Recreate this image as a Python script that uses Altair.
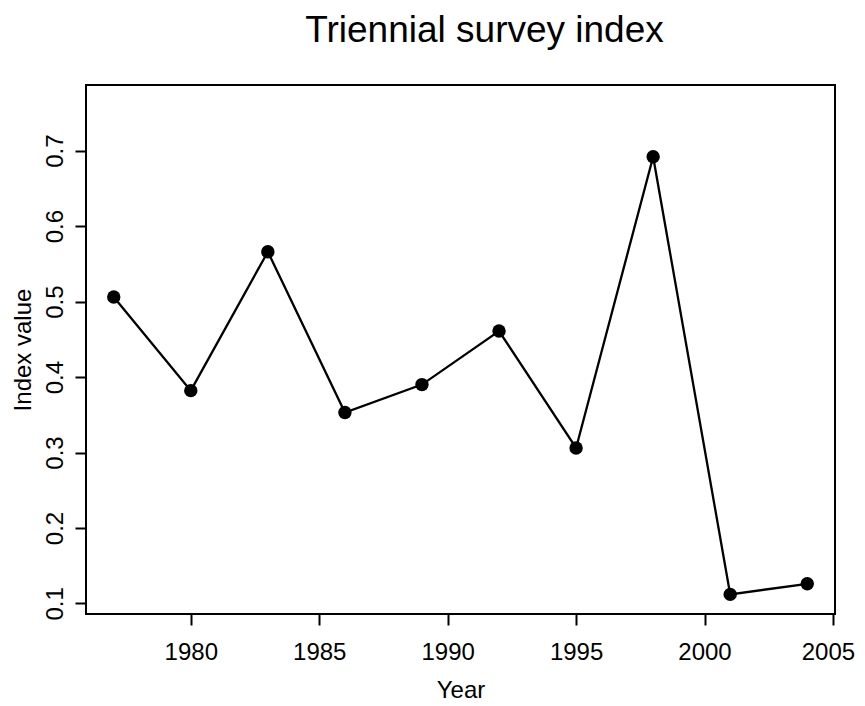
import altair as alt
import pandas as pd

years = [1977, 1980, 1983, 1986, 1989, 1992, 1995, 1998, 2001, 2004]
index_values = [0.506, 0.382, 0.566, 0.353, 0.390, 0.461, 0.306, 0.692, 0.112, 0.126]
x_ticks = [1980, 1985, 1990, 1995, 2000, 2005]
y_ticks = [0.1, 0.2, 0.3, 0.4, 0.5, 0.6, 0.7]
x_domain = [1975.92, 2005.08]
y_domain = [0.086, 0.787]

df = pd.DataFrame({"Year": years, "Index": index_values})

FONT = "Liberation Sans"

x = alt.X(
    "Year:Q",
    scale=alt.Scale(domain=x_domain, nice=False, zero=False),
    axis=alt.Axis(
        values=x_ticks, format="d", title="Year", domain=False, grid=False,
        tickColor="black", tickWidth=2, tickSize=11,
        labelFont=FONT, labelFontSize=24, labelColor="black", labelPadding=15,
        labelFlush=False, labelOverlap=False,
        labelOffset=alt.ExprRef("datum.value == 2005 ? -5 : 0"),
        titleFont=FONT, titleFontSize=24, titleFontWeight="normal", titleColor="black",
        titlePadding=14,
    ),
)
y = alt.Y(
    "Index:Q",
    scale=alt.Scale(domain=y_domain, nice=False, zero=False),
    axis=alt.Axis(
        values=y_ticks, format=".1f", title="Index value", domain=False, grid=False,
        tickColor="black", tickWidth=2, tickSize=11,
        labelFont=FONT, labelFontSize=24, labelColor="black", labelPadding=8,
        labelAngle=270, labelAlign="center", labelBaseline="bottom",
        labelFlush=False, labelOverlap=False,
        titleFont=FONT, titleFontSize=24, titleFontWeight="normal", titleColor="black",
        titlePadding=8,
    ),
)

base = alt.Chart(df).encode(x=x, y=y)
line = base.mark_line(color="black", strokeWidth=2.3)
points = base.mark_circle(color="black", opacity=1, size=180)

chart = (
    alt.layer(line, points)
    .properties(
        width=749,
        height=529,
        title=alt.TitleParams(
            "Triennial survey index", font=FONT, fontSize=37, fontWeight="normal",
            color="black", anchor="middle", offset=35, dx=24,
        ),
        autosize=alt.AutoSizeParams(type="none"),
        padding={"left": 78, "top": 77, "right": 22, "bottom": 90},
    )
    .configure(background="white", view=alt.ViewConfig(stroke="black", strokeWidth=2))
)

chart.save("out.html", embed_options={"renderer": "svg", "actions": False})
